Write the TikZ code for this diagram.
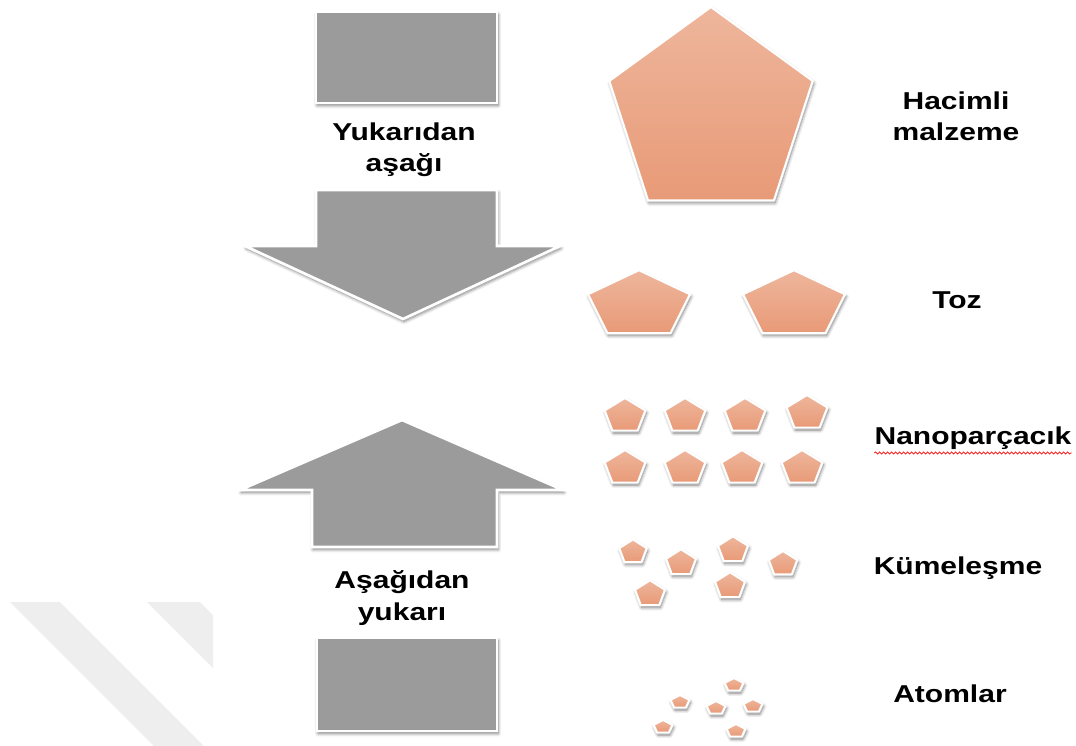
\documentclass[tikz,border=0pt]{standalone}
\usepackage{fontspec}
\setmainfont{Liberation Sans}[FakeStretch=1.23]
\usetikzlibrary{shadows.blur,decorations.pathmorphing}
\definecolor{boxgray}{HTML}{9B9B9B}
\definecolor{pentTop}{HTML}{EEB69C}
\definecolor{pentBot}{HTML}{E89A77}
\definecolor{wm}{HTML}{EEEEEE}
\tikzset{
  softshadow/.style={blur shadow={shadow blur steps=8, shadow blur radius=2.5pt, shadow xshift=0.8pt, shadow yshift=-1.8pt, shadow opacity=50}},
  grayshape/.style={fill=boxgray, draw=white, line width=2pt, line join=miter, softshadow},
  pentstyle/.style={top color=pentTop, bottom color=pentBot, draw=white, line width=1.6pt, line join=round, softshadow},
  lab/.style={font=\fontsize{18.3}{23.5}\selectfont\bfseries, align=center, inner sep=0pt},
  spell/.style={draw=red, line width=0.5pt, decorate, decoration={snake, amplitude=0.8pt, segment length=3pt}},
}
% #1,#2 centre, #3 radius (px), #4 vertical squash
\newcommand\pentagon[4]{%
  \path[pentstyle, shift={(#1,#2)}]
    (0,{-#3*#4}) -- ({0.951*#3},{-0.309*#3*#4}) -- ({0.588*#3},{0.809*#3*#4})
    -- ({-0.588*#3},{0.809*#3*#4}) -- ({-0.951*#3},{-0.309*#3*#4}) -- cycle;}
\begin{document}
\begin{tikzpicture}[x=0.75pt, y=-0.75pt]
\useasboundingbox (0,0) rectangle (1076,746);
% watermark stripes
\fill[wm] (10,602) -- (60,602) -- (204,746) -- (154,746) -- cycle;
\fill[wm] (147,602) -- (200,602) -- (213,615) -- (213,668) -- cycle;
% left column
\path[grayshape] (316,12) rectangle (497,103);
\node[lab] (topdown) at (404,150) {Yukarıdan\\aşağı};
\path[grayshape] (316,190) -- (497,190) -- (497,246) -- (560,246) -- (403,319)
  -- (245,246) -- (316,246) -- cycle;
\path[grayshape] (402,420) -- (563,490) -- (497,490) -- (497,547) -- (312,547)
  -- (312,490) -- (240,490) -- cycle;
\node[lab] (bottomup) at (402,598) {Aşağıdan\\yukarı};
\path[grayshape] (317,638) rectangle (497,731);
% bulk
\pentagon{711}{114}{107}{1}
% powder
\pentagon{639}{305}{53.6}{0.65}
\pentagon{794}{305}{53.6}{0.65}
% nanoparticles
\pentagon{625}{416}{21.5}{0.84}
\pentagon{685}{416}{21.5}{0.84}
\pentagon{745}{416}{21.5}{0.84}
\pentagon{807}{413}{21.5}{0.84}
\pentagon{625}{468}{21.5}{0.84}
\pentagon{685}{468}{21.5}{0.84}
\pentagon{742}{468}{21.5}{0.84}
\pentagon{802}{468}{21.5}{0.84}
% clusters
\pentagon{633}{552}{14.5}{0.87}
\pentagon{681}{563}{15.8}{0.87}
\pentagon{733}{550}{15.8}{0.87}
\pentagon{783}{564}{15}{0.87}
\pentagon{650}{594}{15.8}{0.87}
\pentagon{730}{586}{15.8}{0.87}
% atoms
\pentagon{734}{685}{10}{0.7}
\pentagon{680}{702}{10}{0.7}
\pentagon{716}{708}{10}{0.7}
\pentagon{753}{706}{10}{0.7}
\pentagon{663}{727}{10}{0.7}
\pentagon{736}{731}{10}{0.7}
% labels
\node[lab] (bulk) at (956,116) {Hacimli\\malzeme};
\node[lab] (powder) at (957,300) {Toz};
\node[lab] (nano) at (973,438) {Nanoparçacık};
\node[lab] (cluster) at (958,568) {Kümeleşme};
\node[lab] (atoms) at (950,694) {Atomlar};
\draw[spell] ([yshift=-2.5pt]nano.south west) -- ([yshift=-2.5pt]nano.south east);
\end{tikzpicture}
\end{document}
